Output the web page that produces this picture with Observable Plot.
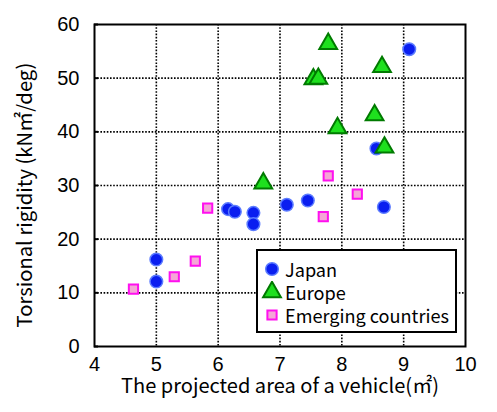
<!DOCTYPE html>
<html>
<head>
<meta charset="utf-8">
<script src="https://cdn.jsdelivr.net/npm/d3@7"></script>
<script src="https://cdn.jsdelivr.net/npm/@observablehq/plot@0.6"></script>
<style>
  html, body { margin: 0; padding: 0; background: #fff; }
  #wrap { position: relative; width: 497px; height: 412px; }
  #legend {
    position: absolute; left: 256px; top: 249px; width: 197px; height: 80px;
    border: 2px solid #000; background: #fff;
    font-family: "Noto Sans CJK JP", "Noto Sans", sans-serif; font-size: 18px; color: #000;
  }
  .row { position: absolute; left: 3px; height: 22px; display: flex; align-items: center; white-space: nowrap; }
  .row svg { width: 22px; height: 22px; margin-right: 2px; }
</style>
</head>
<body>
<div id="wrap"></div>
<script>
const xTicks = [4, 5, 6, 7, 8, 9, 10];
const yTicks = [0, 10, 20, 30, 40, 50, 60];
const xLabel = "The projected area of a vehicle(㎡)";
const yLabel = "Torsional rigidity (kN㎡/deg)";
const seriesNames = ["Japan", "Europe", "Emerging countries"];

const japanX = [9.09, 8.56, 8.68, 7.45, 7.11, 6.57, 6.57, 6.16, 6.27, 5.00, 5.00];
const japanY = [55.4, 36.9, 26.0, 27.2, 26.4, 24.9, 22.8, 25.6, 25.1, 16.2, 12.1];

const europeX = [7.78, 8.65, 7.54, 7.62, 8.53, 7.93, 8.69, 6.73];
const europeY = [56.4, 52.1, 49.8, 49.9, 43.1, 40.7, 37.1, 30.4];

const emergingX = [7.78, 8.25, 7.70, 5.83, 5.63, 5.29, 4.63];
const emergingY = [31.8, 28.4, 24.2, 25.8, 15.9, 13.0, 10.7];

const toRows = (xs, ys) => xs.map((x, i) => ({x, y: ys[i]}));
const japan = toRows(japanX, japanY);
const europe = toRows(europeX, europeY);
const emerging = toRows(emergingX, emergingY);

const styles = {
  Japan: {symbol: "circle", r: 6.3, fill: "#0a1ef0", stroke: "#5c7cff", strokeWidth: 1.5},
  Europe: {symbol: "triangle", r: 6.6, fill: "#1ee01e", stroke: "#007a00", strokeWidth: 2},
  "Emerging countries": {symbol: "square", r: 5.2, fill: "#f5a6d6", stroke: "#ff10ef", strokeWidth: 2}
};

const gridStyle = {stroke: "#000", strokeOpacity: 1, strokeWidth: 1.6, strokeDasharray: "1.6,1.6"};
const titleFont = "Noto Sans CJK JP, Noto Sans, sans-serif";

const plot = Plot.plot({
  width: 497,
  height: 412,
  marginLeft: 94,
  marginRight: 32,
  marginTop: 24,
  marginBottom: 66,
  x: {domain: [4, 10]},
  y: {domain: [0, 60]},
  style: {fontFamily: "Liberation Sans, Arial, sans-serif", fontSize: "20px", color: "#000", background: "#fff"},
  marks: [
    Plot.gridX(xTicks.slice(1, -1), gridStyle),
    Plot.gridY(yTicks.slice(1, -1), gridStyle),
    Plot.axisY({ticks: yTicks, tickSize: 0, tickPadding: 15, tickFormat: "d", label: null, fontSize: 20}),
    Plot.axisY({ticks: yTicks, tickSize: -4, text: null, label: null, strokeWidth: 2}),
    Plot.axisX({ticks: xTicks, tickSize: 0, tickPadding: 10, tickFormat: "d", label: null, fontSize: 20}),
    Plot.frame({stroke: "#000", strokeWidth: 2}),
    Plot.text([xLabel], {frameAnchor: "bottom", textAnchor: "middle", dy: 46, fontFamily: titleFont, fontSize: 18.5, fill: "#000"}),
    Plot.text([yLabel], {frameAnchor: "left", textAnchor: "middle", rotate: -90, dx: -69, dy: 9.5, fontFamily: titleFont, fontSize: 18.5, fill: "#000"}),
    Plot.dot(japan, {x: "x", y: "y", ...styles.Japan}),
    Plot.dot(europe, {x: "x", y: "y", ...styles.Europe}),
    Plot.dot(emerging, {x: "x", y: "y", ...styles["Emerging countries"]})
  ]
});

const wrap = document.getElementById("wrap");
wrap.appendChild(plot);

// fit axis-title lengths to the reference
const fitLength = (label, target) => {
  d3.select(plot).selectAll("text").filter(function () { return this.textContent === label; })
    .each(function () {
      const fs = 18.5;
      this.style.fontSize = fs + "px";
      const L = this.getComputedTextLength();
      if (L > 0) this.style.fontSize = (fs * target / L) + "px";
    });
};
fitLength(xLabel, 318);
fitLength(yLabel, 265);

// legend
const legend = document.createElement("div");
legend.id = "legend";
wrap.appendChild(legend);
const spans = [];
seriesNames.forEach((name, i) => {
  const s = styles[name];
  const row = document.createElement("div");
  row.className = "row";
  row.style.top = (7 + i * 23) + "px";
  const svg = d3.create("svg").attr("viewBox", "-11 -11 22 22");
  const sym = {circle: d3.symbolCircle, triangle: d3.symbolTriangle, square: d3.symbolSquare}[s.symbol];
  svg.append("path")
    .attr("d", d3.symbol(sym, Math.PI * s.r * s.r)())
    .attr("fill", s.fill).attr("stroke", s.stroke).attr("stroke-width", s.strokeWidth);
  row.appendChild(svg.node());
  const t = document.createElement("span");
  t.textContent = name;
  row.appendChild(t);
  legend.appendChild(row);
  spans.push(t);
});
const longest = spans[2].getBoundingClientRect().width;
if (longest > 0) legend.style.fontSize = (18 * 164 / longest) + "px";
</script>
</body>
</html>
